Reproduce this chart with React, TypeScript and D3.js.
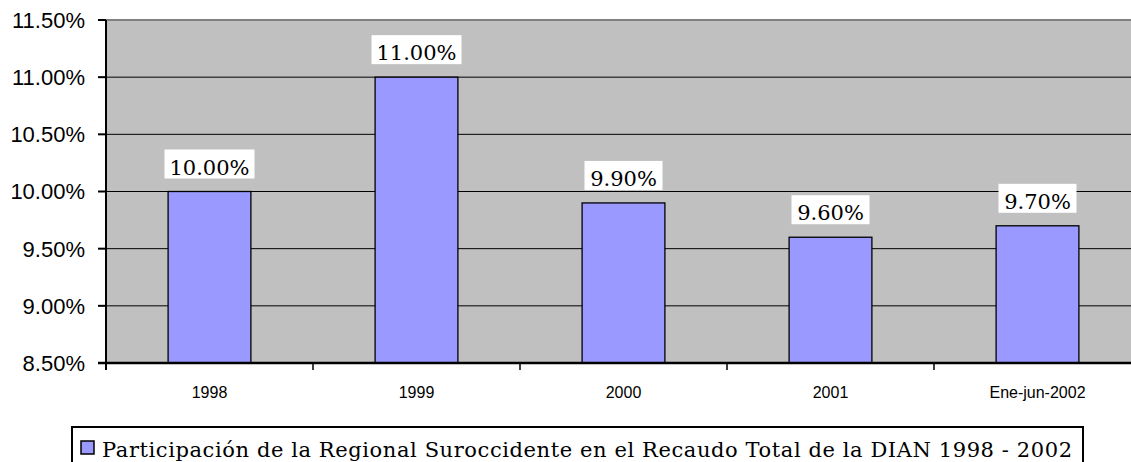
import React from "react";
import * as d3 from "d3";

const categories = ["1998", "1999", "2000", "2001", "Ene-jun-2002"];
const values = [10.0, 11.0, 9.9, 9.6, 9.7];
const yTicks = [8.5, 9.0, 9.5, 10.0, 10.5, 11.0, 11.5];
const legendLabel =
  "Participación de la Regional Suroccidente en el Recaudo Total de la DIAN 1998 - 2002";

export default function App() {
  const W = 1131;
  const H = 462;
  const left = 106;
  const top = 20;
  const bottom = 363;
  const bandW = 207;
  const right = left + bandW * categories.length;

  const x = d3
    .scaleBand<string>()
    .domain(categories)
    .range([left, right])
    .paddingInner(0.6)
    .paddingOuter(0.3);
  const y = d3.scaleLinear().domain([8.5, 11.5]).range([bottom, top]);
  const serif = "DejaVu Serif, serif";
  const sans = "Liberation Sans, Arial, sans-serif";

  return (
    <svg
      width={W}
      height={H}
      style={{ position: "absolute", left: 0, top: 0, background: "#fff" }}
    >
      <rect x={left} y={top} width={right - left} height={bottom - top} fill="#c0c0c0" />
      {yTicks.slice(1, -1).map((t) => (
        <line key={t} x1={left} x2={right} y1={y(t)} y2={y(t)} stroke="#000" strokeWidth={1} />
      ))}
      <line x1={left} x2={right} y1={top} y2={top} stroke="#808080" strokeWidth={2} />
      {values.map((v, i) => (
        <rect
          key={i}
          x={x(categories[i])!}
          y={y(v)}
          width={x.bandwidth()}
          height={bottom - y(v)}
          fill="#9999ff"
          stroke="#000"
          strokeWidth={1.3}
        />
      ))}
      <line x1={left} x2={left} y1={top} y2={bottom + 7} stroke="#000" strokeWidth={2} />
      <line x1={left - 8} x2={right} y1={bottom} y2={bottom} stroke="#000" strokeWidth={2.5} />
      {yTicks.map((t) => (
        <g key={t}>
          <line x1={left - 8} x2={left} y1={y(t)} y2={y(t)} stroke="#000" strokeWidth={2} />
          <text
            x={85}
            y={y(t)}
            dy="0.36em"
            textAnchor="end"
            fontFamily={sans}
            fontSize={22}
            fill="#000"
          >
            {t.toFixed(2)}%
          </text>
        </g>
      ))}
      {categories.map((c, i) => {
        const cx = left + bandW * (i + 0.5);
        return (
          <g key={c}>
            {i > 0 && (
              <line
                x1={left + bandW * i}
                x2={left + bandW * i}
                y1={bottom}
                y2={bottom + 7}
                stroke="#000"
                strokeWidth={1.5}
              />
            )}
            <text
              x={cx}
              y={398}
              textAnchor="middle"
              fontFamily={sans}
              fontSize={16}
              fill="#000"
            >
              {c}
            </text>
          </g>
        );
      })}
      {values.map((v, i) => {
        const cx = x(categories[i])! + x.bandwidth() / 2;
        const label = v.toFixed(2) + "%";
        const tw = label.length === 6 ? 90 : 78;
        return (
          <g key={"l" + i}>
            <rect x={cx - tw / 2} y={y(v) - 42} width={tw} height={29} fill="#fff" />
            <text
              x={cx}
              y={y(v) - 17}
              textAnchor="middle"
              fontFamily={serif}
              fontSize={21}
              fill="#000"
            >
              {label}
            </text>
          </g>
        );
      })}
      <rect x={72} y={427} width={1011} height={40} fill="#fff" stroke="#000" strokeWidth={2} />
      <rect x={81} y={441} width={13} height={13} fill="#9999ff" stroke="#000" strokeWidth={1.5} />
      <text
        x={102}
        y={457}
        fontFamily={serif}
        fontSize={21}
        textLength={970}
        lengthAdjust="spacing"
        fill="#000"
      >
        {legendLabel}
      </text>
    </svg>
  );
}
